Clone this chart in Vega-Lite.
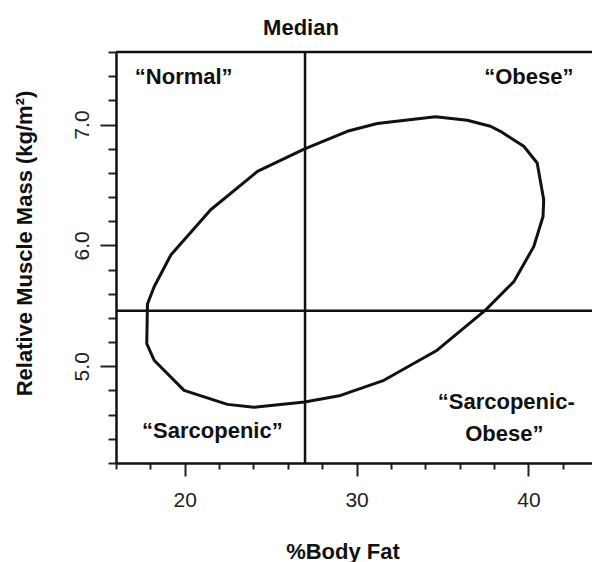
{
  "$schema": "https://vega.github.io/schema/vega-lite/v6.json",
  "autosize": "none",
  "width": 476,
  "height": 411,
  "padding": {"left": 116, "top": 52, "right": 0, "bottom": 99},
  "background": "white",
  "view": {"stroke": null},
  "config": {
    "font": "Liberation Sans",
    "axis": {"grid": false, "labelOverlap": false, "labelFlush": false}
  },
  "title": {
    "text": "Median",
    "font": "Liberation Sans",
    "fontSize": 22,
    "fontWeight": "bold",
    "color": "#111",
    "anchor": "middle",
    "frame": "group",
    "dx": -53,
    "offset": -6,
    "baseline": "alphabetic"
  },
  "datasets": {
    "curve": [
      {"i": 1, "fat": 34.59, "rmm": 7.064},
      {"i": 2, "fat": 36.44, "rmm": 7.036},
      {"i": 3, "fat": 37.79, "rmm": 6.986},
      {"i": 4, "fat": 38.37, "rmm": 6.944},
      {"i": 5, "fat": 39.73, "rmm": 6.820},
      {"i": 6, "fat": 40.51, "rmm": 6.682},
      {"i": 7, "fat": 40.89, "rmm": 6.378},
      {"i": 8, "fat": 40.85, "rmm": 6.239},
      {"i": 9, "fat": 40.31, "rmm": 5.990},
      {"i": 10, "fat": 39.15, "rmm": 5.700},
      {"i": 11, "fat": 37.50, "rmm": 5.465},
      {"i": 12, "fat": 34.69, "rmm": 5.133},
      {"i": 13, "fat": 31.59, "rmm": 4.884},
      {"i": 14, "fat": 29.07, "rmm": 4.759},
      {"i": 15, "fat": 26.98, "rmm": 4.704},
      {"i": 16, "fat": 24.03, "rmm": 4.662},
      {"i": 17, "fat": 22.48, "rmm": 4.685},
      {"i": 18, "fat": 19.96, "rmm": 4.801},
      {"i": 19, "fat": 18.22, "rmm": 5.050},
      {"i": 20, "fat": 17.79, "rmm": 5.188},
      {"i": 21, "fat": 17.83, "rmm": 5.515},
      {"i": 22, "fat": 18.22, "rmm": 5.658},
      {"i": 23, "fat": 19.19, "rmm": 5.921},
      {"i": 24, "fat": 21.51, "rmm": 6.295},
      {"i": 25, "fat": 23.65, "rmm": 6.544},
      {"i": 26, "fat": 24.23, "rmm": 6.612},
      {"i": 27, "fat": 26.98, "rmm": 6.798},
      {"i": 28, "fat": 29.46, "rmm": 6.944},
      {"i": 29, "fat": 31.20, "rmm": 7.008},
      {"i": 30, "fat": 34.59, "rmm": 7.064}
    ],
    "labels": [
      {"fat": 19.94, "rmm": 7.335, "label": "“Normal”"},
      {"fat": 40.02, "rmm": 7.335, "label": "“Obese”"},
      {"fat": 21.61, "rmm": 4.405, "label": "“Sarcopenic”"},
      {"fat": 38.71, "rmm": 4.643, "label": "“Sarcopenic-"},
      {"fat": 38.6, "rmm": 4.386, "label": "Obese”"}
    ],
    "medianFat": [{"fat": 27}],
    "medianRmm": [{"rmm": 5.46}],
    "frameTop": [{"rmm": 7.6}]
  },
  "layer": [
    {
      "data": {"name": "curve"},
      "mark": {"type": "line", "color": "#111", "strokeWidth": 3, "strokeJoin": "round"},
      "encoding": {
        "x": {
          "field": "fat",
          "type": "quantitative",
          "scale": {"domain": [16, 43.7], "nice": false, "zero": false},
          "axis": {
            "title": "%Body Fat",
            "titleFont": "Liberation Sans",
            "titleFontSize": 22,
            "titleFontWeight": "bold",
            "titleColor": "#111",
            "titleX": 226.5,
            "titleY": 95,
            "titleAlign": "center",
            "titleBaseline": "alphabetic",
            "values": [16, 18, 20, 22, 24, 26, 28, 30, 32, 34, 36, 38, 40, 42],
            "tickCount": 100,
            "format": "d",
            "labelExpr": "datum.value % 10 === 0 ? datum.label : ''",
            "labelFont": "Liberation Sans",
            "labelFontSize": 21,
            "labelColor": "#222",
            "labelPadding": 13,
            "labelFlush": false,
            "labelOverlap": false,
            "domainColor": "#111",
            "domainWidth": 2.5,
            "tickColor": "#222",
            "tickWidth": 2,
            "tickSize": {"condition": {"test": "datum.value % 10 === 0", "value": 13}, "value": 6}
          }
        },
        "y": {
          "field": "rmm",
          "type": "quantitative",
          "scale": {"domain": [4.2, 7.6], "nice": false, "zero": false},
          "axis": {
            "title": "Relative Muscle Mass (kg/m²)",
            "titleFont": "Liberation Sans",
            "titleFontSize": 22,
            "titleFontWeight": "bold",
            "titleColor": "#111",
            "titleAngle": 270,
            "titleX": -85,
            "titleY": 191,
            "titleAlign": "center",
            "titleBaseline": "alphabetic",
            "values": [4.2, 4.4, 4.6, 4.8, 5, 5.2, 5.4, 5.6, 5.8, 6, 6.2, 6.4, 6.6, 6.8, 7, 7.2, 7.4, 7.6],
            "tickCount": 100,
            "format": ".1f",
            "labelExpr": "datum.value % 1 === 0 ? datum.label : ''",
            "labelAngle": 270,
            "labelAlign": "center",
            "labelBaseline": "alphabetic",
            "labelFont": "Liberation Sans",
            "labelFontSize": 21,
            "labelColor": "#222",
            "labelPadding": 12,
            "labelFlush": false,
            "labelOverlap": false,
            "domainColor": "#111",
            "domainWidth": 2.5,
            "tickColor": "#222",
            "tickWidth": 2,
            "tickSize": {"condition": {"test": "datum.value % 1 === 0", "value": 16}, "value": 8}
          }
        },
        "order": {"field": "i", "type": "quantitative"}
      }
    },
    {
      "data": {"name": "medianFat"},
      "mark": {"type": "rule", "color": "#111", "strokeWidth": 2.5},
      "encoding": {"x": {"field": "fat", "type": "quantitative"}}
    },
    {
      "data": {"name": "medianRmm"},
      "mark": {"type": "rule", "color": "#111", "strokeWidth": 2.5},
      "encoding": {"y": {"field": "rmm", "type": "quantitative"}}
    },
    {
      "data": {"name": "frameTop"},
      "mark": {"type": "rule", "color": "#111", "strokeWidth": 2.5},
      "encoding": {"y": {"field": "rmm", "type": "quantitative"}}
    },
    {
      "data": {"name": "labels"},
      "mark": {"type": "text", "font": "Liberation Sans", "fontSize": 22, "fontWeight": "bold", "color": "#111", "baseline": "alphabetic", "align": "center"},
      "encoding": {
        "x": {"field": "fat", "type": "quantitative"},
        "y": {"field": "rmm", "type": "quantitative"},
        "text": {"field": "label"}
      }
    }
  ]
}
